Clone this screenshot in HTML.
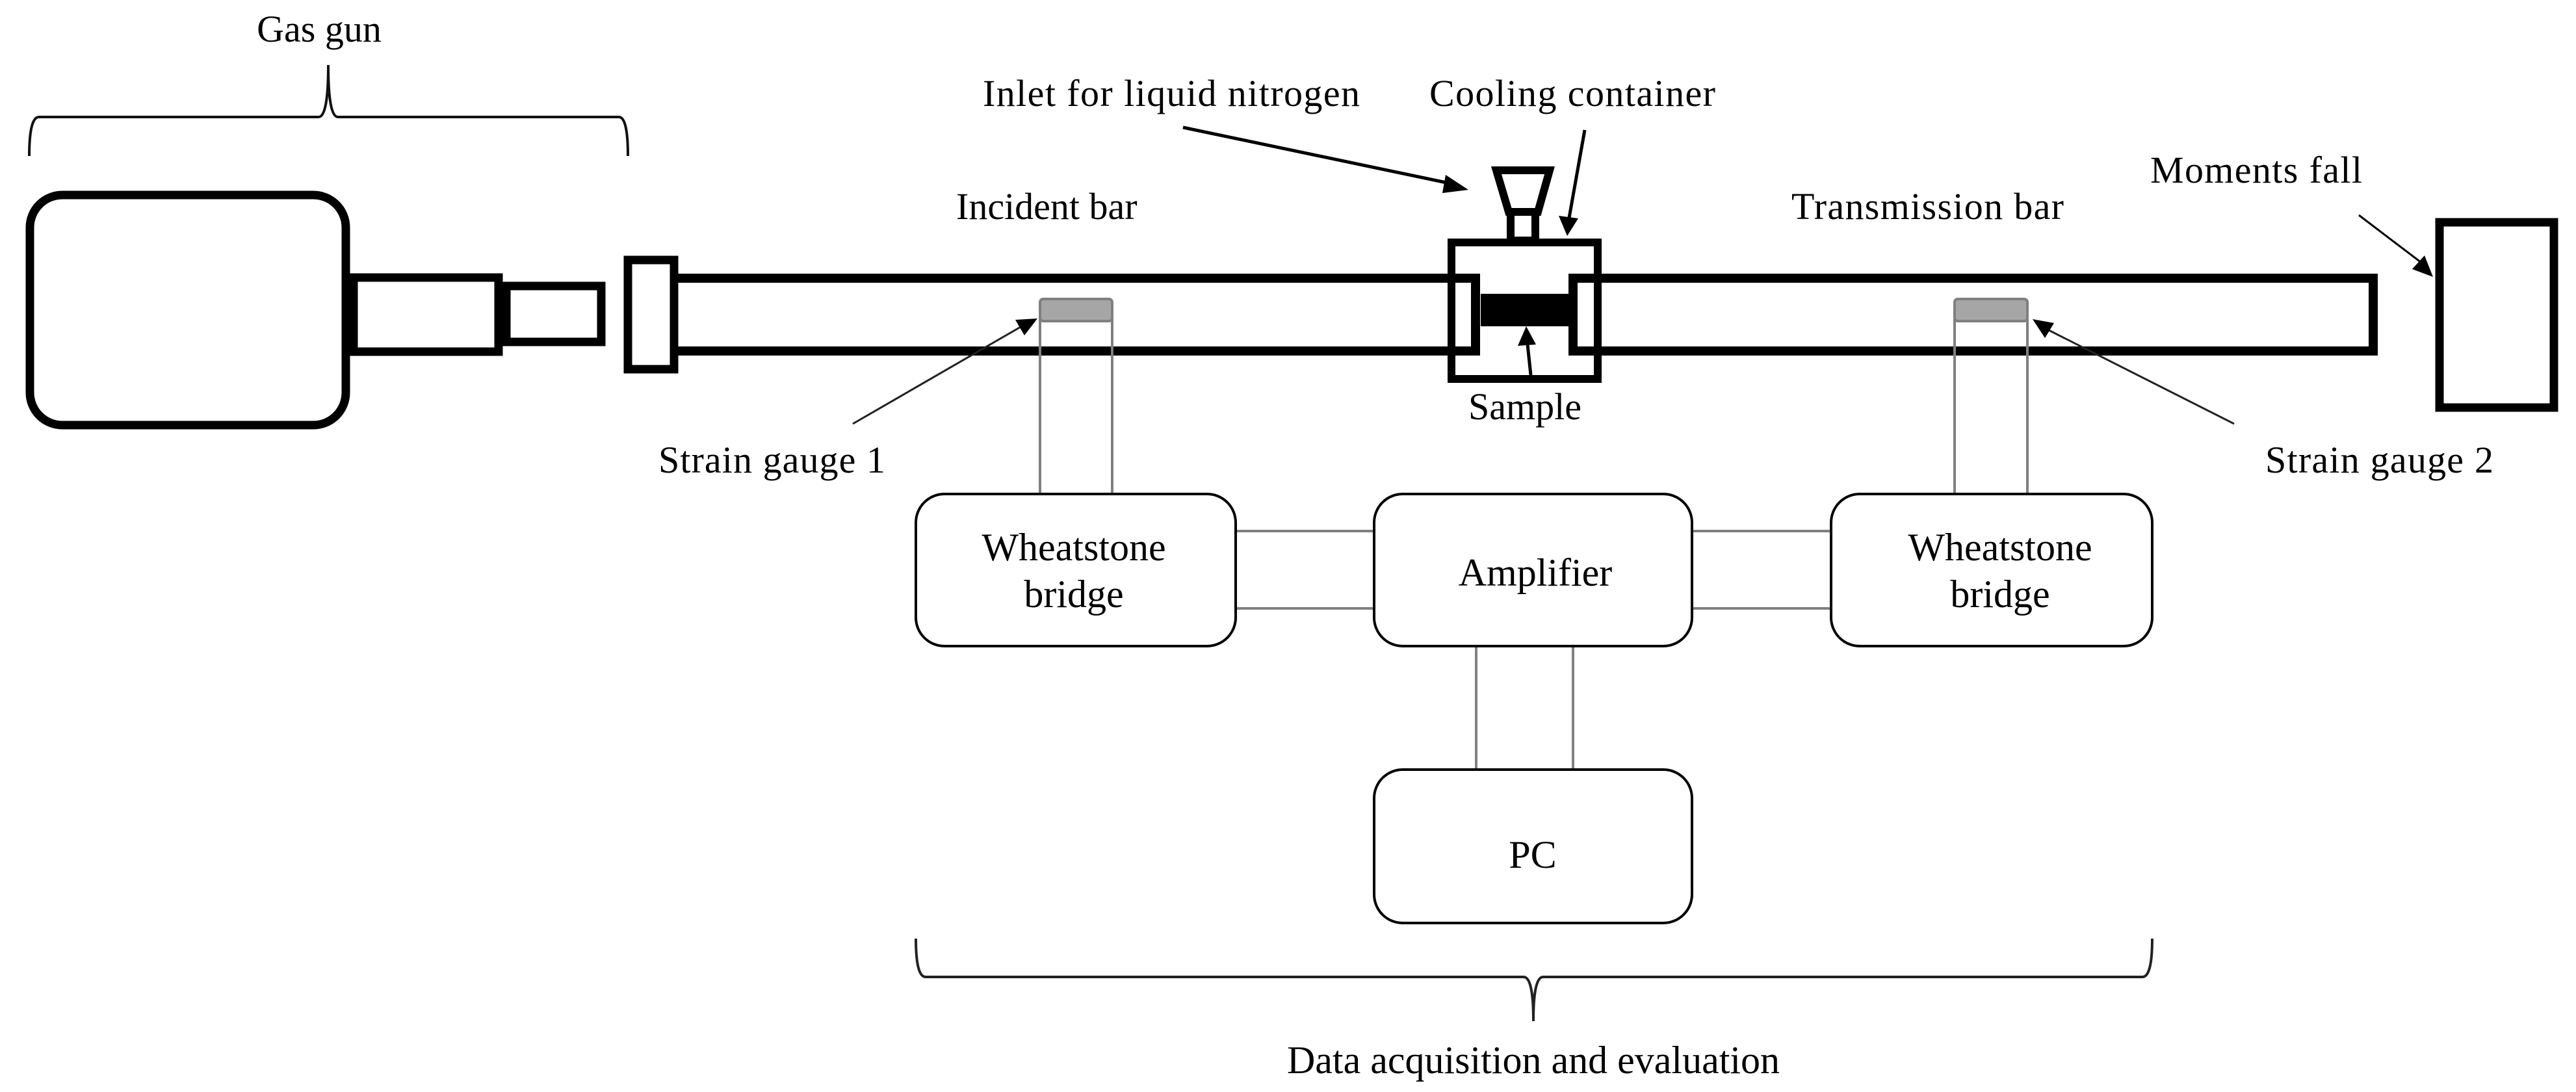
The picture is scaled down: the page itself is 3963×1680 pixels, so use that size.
<!DOCTYPE html>
<html><head><meta charset="utf-8"><style>
html,body{margin:0;padding:0;background:#fff;}
svg{display:block;}
text{font-family:"Liberation Serif",serif;fill:#000;}
</style></head><body>
<svg width="3963" height="1680" viewBox="0 0 3963 1680" xmlns="http://www.w3.org/2000/svg">
<defs>
<marker id="ah" markerWidth="10" markerHeight="8" refX="9.5" refY="4" orient="auto" markerUnits="userSpaceOnUse" viewBox="0 0 10 8">
</marker>
</defs>
<rect width="3963" height="1680" fill="#fff"/>

<!-- Gas gun brace -->
<path d="M45,240 Q45,180 60,180 L490,180 Q505,180 505,100 Q505,180 520,180 L952,180 Q966,180 966,240" fill="none" stroke="#111" stroke-width="4"/>
<text x="491" y="64" font-size="58" text-anchor="middle">Gas gun</text>

<!-- Gas tank -->
<rect x="46" y="300" width="486" height="354" rx="50" ry="50" fill="none" stroke="#000" stroke-width="13"/>
<rect x="544" y="427" width="223" height="114" fill="none" stroke="#000" stroke-width="13"/>
<rect x="779" y="440" width="146" height="86" fill="none" stroke="#000" stroke-width="13"/>
<rect x="966" y="400" width="71" height="168" fill="none" stroke="#000" stroke-width="13"/>

<!-- Incident bar -->
<path d="M1043,428 L2270,428 L2270,540 L1043,540" fill="none" stroke="#000" stroke-width="14"/>
<!-- Transmission bar -->
<path d="M2420,428 L3651,428 L3651,540 L2420,540 Z" fill="none" stroke="#000" stroke-width="14"/>
<rect x="2413" y="421" width="8" height="126" fill="#000"/>

<!-- Container -->
<rect x="2233" y="373" width="225" height="210" fill="none" stroke="#000" stroke-width="12"/>
<rect x="2278" y="452" width="135" height="50" fill="#000"/>
<!-- funnel -->
<polygon points="2302,262 2384,262 2366,326 2321,326" fill="none" stroke="#000" stroke-width="12"/>
<rect x="2324" y="326" width="38" height="44" fill="none" stroke="#000" stroke-width="12"/>

<!-- arrows -->
<line x1="1820" y1="196" x2="2230" y2="282" stroke="#000" stroke-width="5"/>
<polygon points="2259,292 2224,269 2219,297" fill="#000"/>
<line x1="2438" y1="200" x2="2414" y2="335" stroke="#000" stroke-width="5"/>
<polygon points="2411,363 2398,332 2428,336" fill="#000"/>
<line x1="2355" y1="577" x2="2350" y2="530" stroke="#000" stroke-width="5"/>
<polygon points="2348,502 2335,532 2363,530" fill="#000"/>
<line x1="3629" y1="331" x2="3725" y2="404" stroke="#000" stroke-width="3"/>
<polygon points="3743,426 3711,414 3730,393" fill="#000"/>

<!-- Moments fall box -->
<rect x="3753" y="342" width="176" height="285" fill="none" stroke="#000" stroke-width="13"/>

<!-- Strain gauges -->
<line x1="1600" y1="490" x2="1600" y2="758" stroke="#808080" stroke-width="4"/>
<line x1="1711" y1="490" x2="1711" y2="758" stroke="#808080" stroke-width="4"/>
<rect x="1600" y="460" width="111" height="34" rx="5" fill="#a6a6a6" stroke="#808080" stroke-width="4"/>
<line x1="3007" y1="490" x2="3007" y2="758" stroke="#808080" stroke-width="4"/>
<line x1="3119" y1="490" x2="3119" y2="758" stroke="#808080" stroke-width="4"/>
<rect x="3007" y="460" width="112" height="34" rx="5" fill="#a6a6a6" stroke="#808080" stroke-width="4"/>

<line x1="1312" y1="652" x2="1570" y2="503" stroke="#222" stroke-width="3"/>
<polygon points="1596,490 1562,492 1576,516" fill="#000"/>
<line x1="3437" y1="652" x2="3150" y2="507" stroke="#222" stroke-width="3"/>
<polygon points="3127,491 3146,520 3160,497" fill="#000"/>

<!-- Labels -->
<text x="1471" y="337" font-size="58">Incident bar</text>
<text x="1512" y="163" font-size="58" textLength="580">Inlet for liquid nitrogen</text>
<text x="2199" y="163" font-size="58" textLength="440">Cooling container</text>
<text x="2756" y="337" font-size="58" textLength="419">Transmission bar</text>
<text x="3308" y="281" font-size="58" textLength="326">Moments fall</text>
<text x="2346" y="645" font-size="58" text-anchor="middle">Sample</text>
<text x="1013" y="727" font-size="58" textLength="349">Strain gauge 1</text>
<text x="3485" y="727" font-size="58" textLength="351">Strain gauge 2</text>

<!-- DAQ boxes -->
<line x1="1901" y1="817" x2="2114" y2="817" stroke="#808080" stroke-width="4"/>
<line x1="1901" y1="936" x2="2114" y2="936" stroke="#808080" stroke-width="4"/>
<line x1="2603" y1="817" x2="2817" y2="817" stroke="#808080" stroke-width="4"/>
<line x1="2603" y1="936" x2="2817" y2="936" stroke="#808080" stroke-width="4"/>
<line x1="2271" y1="994" x2="2271" y2="1182" stroke="#808080" stroke-width="4"/>
<line x1="2420" y1="994" x2="2420" y2="1182" stroke="#808080" stroke-width="4"/>

<rect x="1409" y="760" width="492" height="234" rx="44" fill="#fff" stroke="#000" stroke-width="4"/>
<rect x="2114" y="760" width="489" height="234" rx="44" fill="#fff" stroke="#000" stroke-width="4"/>
<rect x="2817" y="760" width="494" height="234" rx="44" fill="#fff" stroke="#000" stroke-width="4"/>
<rect x="2114" y="1184" width="489" height="236" rx="44" fill="#fff" stroke="#000" stroke-width="4"/>

<text x="1652" y="862" font-size="60" text-anchor="middle">Wheatstone</text>
<text x="1652" y="934" font-size="60" text-anchor="middle">bridge</text>
<text x="3077" y="862" font-size="60" text-anchor="middle">Wheatstone</text>
<text x="3077" y="934" font-size="60" text-anchor="middle">bridge</text>
<text x="2362" y="901" font-size="60" text-anchor="middle">Amplifier</text>
<text x="2358" y="1335" font-size="60" text-anchor="middle">PC</text>

<!-- bottom brace -->
<path d="M1409,1444 Q1409,1503 1424,1503 L2344,1503 Q2359,1503 2359,1571 Q2359,1503 2374,1503 L3296,1503 Q3311,1503 3311,1444" fill="none" stroke="#222" stroke-width="4"/>
<text x="2359" y="1651" font-size="60" text-anchor="middle">Data acquisition and evaluation</text>
</svg>
</body></html>
